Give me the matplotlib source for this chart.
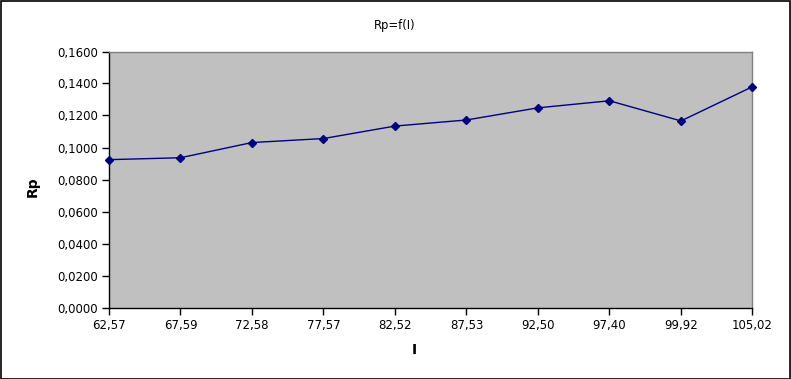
import matplotlib
matplotlib.use("Agg")
import matplotlib.pyplot as plt
from matplotlib.ticker import FuncFormatter, MultipleLocator

categories = ["62,57", "67,59", "72,58", "77,57", "82,52", "87,53", "92,50", "97,40", "99,92", "105,02"]
rp_values = [0.0924, 0.0936, 0.1031, 0.1056, 0.1134, 0.1172, 0.1248, 0.1292, 0.1166, 0.1380]

fig = plt.figure(figsize=(7.91, 3.79), dpi=100)
W, H = 791, 379
ax = fig.add_axes([109 / W, 1 - 307.5 / H, (752.5 - 109) / W, (307.5 - 51.5) / H])
ax.set_facecolor("#c0c0c0")

x = list(range(len(categories)))
ax.plot(x, rp_values, color="#000080", lw=1.0, marker="D", markersize=4, markerfacecolor="#000080",
        markeredgecolor="#000080", clip_on=False, zorder=3)

ax.set_xlim(0, len(categories) - 1)
ax.set_ylim(0, 0.16)
ax.set_xticks(x)
ax.set_xticklabels(categories)
ax.yaxis.set_major_locator(MultipleLocator(0.02))
ax.yaxis.set_major_formatter(FuncFormatter(lambda v, p: f"{v:.4f}".replace(".", ",")))

ax.tick_params(axis="both", direction="out", length=5, width=1, color="black", labelsize=8.5, pad=3)
for s in ["left", "bottom"]:
    ax.spines[s].set_color("black")
    ax.spines[s].set_linewidth(1)
for s in ["top", "right"]:
    ax.spines[s].set_color("#808080")
    ax.spines[s].set_linewidth(1)

fig.text(395 / W, 1 - 25 / H, "Rp=f(I)", ha="center", va="center", fontsize=8.3)
fig.text(33 / W, 1 - 187 / H, "Rp", ha="center", va="center", rotation=90, fontsize=10, fontweight="bold")
fig.text(414 / W, 1 - 350 / H, "I", ha="center", va="center", fontsize=10, fontweight="bold")

border = plt.Rectangle((0.5 / W, 0.5 / H), 1 - 1.5 / W, 1 - 1.5 / H, transform=fig.transFigure,
                       fill=False, edgecolor="black", lw=1.2)
fig.patches.append(border)

fig.savefig("out.png", dpi=100)
